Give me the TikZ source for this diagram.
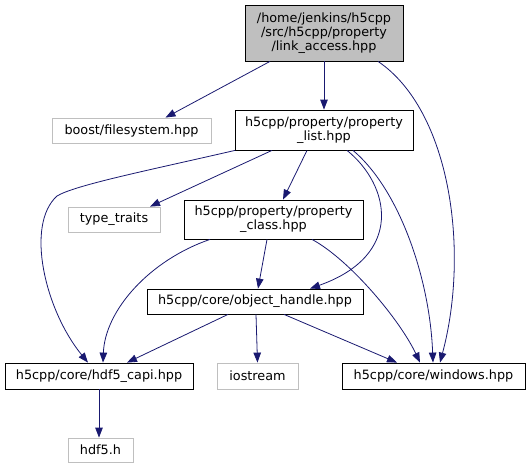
\documentclass[tikz,border=0pt]{standalone}
\usepackage{fontspec}
\setmainfont{DejaVu Sans}
\usetikzlibrary{arrows.meta}
\definecolor{edgec}{HTML}{191970}
\definecolor{grayb}{HTML}{BFBFBF}
\tikzset{
 box/.style={draw=black, line width=0.8pt, inner sep=0pt, align=center, font=\fontsize{12.8}{14}\selectfont},
 gbox/.style={box, draw=grayb},
 edge/.style={draw=edgec, line width=0.8pt, -{Triangle[length=10pt,width=7.5pt]}},
}
\begin{document}
\begin{tikzpicture}[x=1pt,y=-1pt]
\useasboundingbox (0,0) rectangle (531,469);
\node[box, fill=grayb, minimum width=158pt, minimum height=56pt] (top) at (324,33) {/home/jenkins/h5cpp\\/src/h5cpp/property\\/link\_access.hpp};
\node[gbox, minimum width=159pt, minimum height=25pt] (boost) at (131.5,130.5) {boost/filesystem.hpp};
\node[box, minimum width=178pt, minimum height=40pt] (plist) at (324,130) {h5cpp/property/property\\\_list.hpp};
\node[gbox, minimum width=92pt, minimum height=25pt] (ttraits) at (114,219.5) {type\_traits};
\node[box, minimum width=179pt, minimum height=39pt] (pclass) at (273.5,219.5) {h5cpp/property/property\\\_class.hpp};
\node[box, minimum width=216pt, minimum height=25pt] (ohandle) at (255,301.5) {h5cpp/core/object\_handle.hpp};
\node[box, minimum width=188pt, minimum height=26pt] (capi) at (99,376) {h5cpp/core/hdf5\_capi.hpp};
\node[gbox, minimum width=81pt, minimum height=26pt] (iostream) at (257.5,376) {iostream};
\node[box, minimum width=183pt, minimum height=26pt] (windows) at (433.5,376) {h5cpp/core/windows.hpp};
\node[gbox, minimum width=65pt, minimum height=24pt] (hdf5h) at (100.5,450) {hdf5.h};

\draw[edge] ([xshift=-54pt]top.south) -- ([xshift=34pt]boost.north);
\draw[edge] (top.south) -- (plist.north);
\draw[edge] ([xshift=54pt]top.south) .. controls (450,110) and (470,250) .. ([xshift=6.5pt]windows.north);
\draw[edge] ([xshift=-89pt]plist.south) .. controls (150,170) and (75,185) .. (57,196) .. controls (25,225) and (45,310) .. ([xshift=-11pt]capi.north);
\draw[edge] ([xshift=-52pt]plist.south) -- ([xshift=36pt]ttraits.north);
\draw[edge] ([xshift=-17pt]plist.south) -- ([xshift=9.5pt]pclass.north);
\draw[edge] ([xshift=23pt]plist.south) .. controls (390,185) and (405,255) .. ([xshift=55pt]ohandle.north);
\draw[edge] ([xshift=29pt]plist.south) .. controls (400,190) and (430,280) .. ([xshift=-0.5pt]windows.north);
\draw[edge] ([xshift=-63.5pt]pclass.south) .. controls (150,260) and (105,310) .. ([xshift=4pt]capi.north);
\draw[edge] ([xshift=-6.5pt]pclass.south) -- ([xshift=3pt]ohandle.north);
\draw[edge] ([xshift=38.5pt]pclass.south) .. controls (350,260) and (400,320) .. ([xshift=-13.5pt]windows.north);
\draw[edge] ([xshift=-27pt]ohandle.south) -- ([xshift=28pt]capi.north);
\draw[edge] ([xshift=1pt]ohandle.south) -- (iostream.north);
\draw[edge] ([xshift=29pt]ohandle.south) -- ([xshift=-36.5pt]windows.north);
\draw[edge] (capi.south) -- ([xshift=-1.5pt]hdf5h.north);
\end{tikzpicture}
\end{document}
